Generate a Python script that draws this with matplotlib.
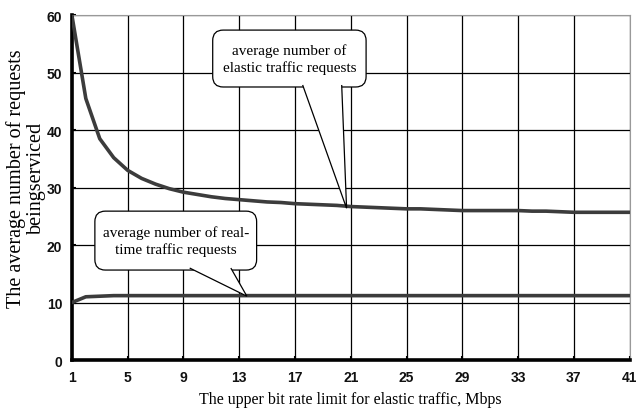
import numpy as np
import matplotlib.pyplot as plt
from matplotlib.patches import FancyBboxPatch, Polygon

# ── Data ───────────────────────────────────────────────────────
rate_limit = list(range(1, 42))  # Mbps
elastic_requests = [60.0, 45.5, 38.5, 35.2, 33.0, 31.6, 30.6, 29.8, 29.2, 28.8,
                    28.4, 28.1, 27.9, 27.7, 27.5, 27.4, 27.2, 27.1, 27.0, 26.9,
                    26.7, 26.6, 26.5, 26.4, 26.3, 26.3, 26.2, 26.1, 26.0, 26.0,
                    26.0, 26.0, 26.0, 25.9, 25.9, 25.8, 25.7, 25.7, 25.7, 25.7,
                    25.7]
realtime_requests = [10.0, 11.0, 11.1, 11.2, 11.2, 11.2, 11.2, 11.2, 11.2, 11.2,
                     11.2, 11.2, 11.2, 11.2, 11.2, 11.2, 11.2, 11.2, 11.2, 11.2,
                     11.2, 11.2, 11.2, 11.2, 11.2, 11.2, 11.2, 11.2, 11.2, 11.2,
                     11.2, 11.2, 11.2, 11.2, 11.2, 11.2, 11.2, 11.2, 11.2, 11.2,
                     11.2]
x_ticks = list(range(1, 42, 4))
y_ticks = [0, 10, 20, 30, 40, 50, 60]

SERIF = ['Liberation Serif', 'DejaVu Serif']
SANS = ['Liberation Sans', 'DejaVu Sans']

# ── Plot ──────────────────────────────────────────────────────
fig = plt.figure(figsize=(6.36, 4.14), dpi=100)
ax = fig.add_axes([0.113, 0.128, 0.877, 0.833])

ax.plot(rate_limit, elastic_requests, color='#3c3c3c', linewidth=2.6,
        solid_capstyle='round', zorder=3)
ax.plot(rate_limit, realtime_requests, color='#3c3c3c', linewidth=2.6,
        solid_capstyle='round', zorder=3)

ax.set_xlim(1, 41)
ax.set_ylim(0, 60)
ax.set_xticks(x_ticks)
ax.set_yticks(y_ticks)
ax.grid(True, color='black', linewidth=0.9)
ax.set_axisbelow(True)

for side in ('left', 'bottom'):
    ax.spines[side].set_linewidth(2.6)
for side in ('top', 'right'):
    ax.spines[side].set_color('#999999')
    ax.spines[side].set_linewidth(0.8)

ax.tick_params(axis='both', length=3, width=1.5, direction='in', pad=7)
for lbl in ax.get_xticklabels() + ax.get_yticklabels():
    lbl.set_family(SANS)
    lbl.set_fontweight('bold')
    lbl.set_fontsize(10)
    lbl.set_color('#111111')

ax.set_xlabel('The upper bit rate limit for elastic traffic, Mbps',
              family=SERIF, fontsize=11.5, labelpad=5)
ax.set_ylabel('The average number of requests\nbeingserviced',
              family=SERIF, fontsize=14.5, linespacing=1.05)
ax.yaxis.set_label_coords(-0.047, 0.53)

# ── Callouts (box + open wedge pointer) ───────────────────────
# aspect of one data unit in y vs x on screen, to keep corners round
aspect = (60 / (0.833 * 414)) / (40 / (0.877 * 636))


def callout(text, x0, x1, y0, y1, base_l, base_r, tip):
    ax.add_patch(FancyBboxPatch((x0, y0), x1 - x0, y1 - y0,
                                boxstyle='round,pad=0,rounding_size=0.75',
                                mutation_aspect=aspect, fc='white',
                                ec='black', lw=0.9, zorder=5))
    by = y0 + 0.35
    ax.add_patch(Polygon([(base_l, by), tip, (base_r, by)], closed=False,
                         fc='white', ec='black', lw=0.9, zorder=6,
                         joinstyle='miter'))
    ax.text((x0 + x1) / 2, (y0 + y1) / 2, text, ha='center', va='center',
            family=SERIF, fontsize=11, linespacing=1.25, zorder=7)


callout('average number of\nelastic traffic requests',
        11.1, 22.1, 47.5, 57.4, 17.55, 20.35, (20.7, 26.4))
callout('average number of real-\ntime traffic requests',
        2.65, 14.25, 15.65, 25.9, 9.45, 12.4, (13.55, 11.1))

fig.savefig('out.png', dpi=100)
